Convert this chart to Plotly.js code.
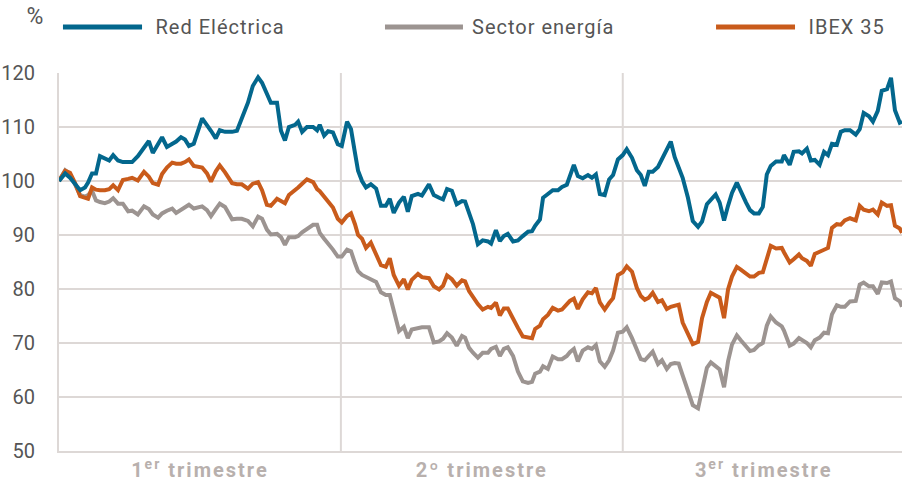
<!DOCTYPE html>
<html>
<head>
<meta charset="utf-8">
<script src="https://cdn.plot.ly/plotly-3.0.1.min.js"></script>
<style>
  html, body { margin: 0; padding: 0; background: #ffffff; }
  #chart { width: 902px; height: 481px; }
  #chart .xtick text { letter-spacing: 2px; }
  #chart .annotation-text { letter-spacing: 1px; }
</style>
</head>
<body>
<div id="chart"></div>
<script>
// Trading-day index from the start of the period (each quarter ≈ 64 sessions)
const days = [
  0,1.4,2.5,3.6,4.8,5.9,6.6,7.5,8.4,9.3,
  10.4,11.4,12.3,13.4,14.5,15.7,16.6,17.9,19.3,20.4,
  21.3,22.5,23.4,24.5,25.7,26.6,27.7,28.6,29.5,30.6,
  32.5,33.6,34.5,35.6,36.5,37.7,39.3,40.4,41.5,42.9,
  44.0,45.2,46.1,47.2,48.1,49.5,50.4,51.3,52.2,53.6,
  54.3,55.2,56.3,57.7,58.6,59.2,60.2,61.1,62.2,63.3,
  64.2,65.4,66.3,67.2,67.9,68.8,69.7,70.8,72.0,73.1,
  74.2,75.1,76.0,77.2,78.3,79.2,80.1,81.5,82.4,84.0,
  85.1,86.3,87.2,88.1,89.2,90.3,91.5,92.2,93.1,94.0,
  95.1,96.2,97.4,98.1,99.2,100.1,101.0,101.9,103.1,104.2,
  105.3,106.5,107.4,108.1,109.2,109.9,111.0,112.1,113.3,114.2,
  115.3,116.0,116.9,117.8,118.9,120.1,121.0,121.9,122.8,123.9,
  124.9,125.8,126.9,128.0,128.9,130.1,131.2,132.1,133.0,133.9,
  134.8,136.0,136.9,138.0,138.9,139.8,140.7,141.6,142.8,143.9,
  145.1,146.0,147.1,148.0,149.1,150.0,151.0,151.9,152.8,153.9,
  154.8,156.0,156.9,157.8,158.9,159.8,160.7,161.6,162.8,164.1,
  164.6,165.9,166.8,168.0,168.7,169.8,170.7,171.6,172.7,173.7,
  174.6,175.5,176.6,177.5,178.4,179.6,180.9,181.8,182.7,183.9,
  184.8,185.9,186.8,188.0,188.9,189.8,190.9,191.4
];

const redElectrica = [
  100,101.4,100.6,99.4,98.3,98.8,99.7,101.4,101.4,104.6,
  104.2,103.8,104.8,103.8,103.5,103.4,103.5,104.6,106.2,107.4,
  105.2,106.7,108.1,106.3,106.9,107.3,108.1,107.7,106.5,106.9,
  111.6,110.4,109.3,107.9,109.4,109.1,109.1,109.3,111.7,114.5,
  117.6,119.2,118.2,116.3,114.5,114.5,109.3,107.5,110.0,110.4,
  111.0,109.1,110.0,110.0,109.4,110.4,108.4,109.2,109.0,106.8,
  106.5,111.0,109.6,105.2,101.9,100.0,98.8,99.4,98.6,95.4,
  95.4,96.7,94.1,96.0,97.1,94.3,97.2,97.6,97.3,99.4,
  97.4,96.9,96.6,98.5,98.2,95.7,96.3,96.2,93.8,92.0,
  88.3,89.0,88.8,88.4,90.9,88.9,89.8,90.2,88.8,89.0,
  89.8,90.6,90.7,91.7,92.9,96.9,97.6,98.3,98.3,98.9,
  99.3,101.1,103.0,100.9,100.5,101.1,100.6,101.2,97.6,97.4,
  100.3,101.1,104.0,104.8,105.9,104.3,102.0,101.1,99.1,101.7,
  101.7,102.6,104.0,105.9,107.3,104.4,102.5,100.6,96.9,92.6,
  91.5,92.5,95.7,96.6,97.5,96.0,92.7,95.4,97.8,99.7,
  98.0,96.0,94.6,94.0,94.0,95.2,101.2,102.8,103.6,103.6,
  104.8,103.0,105.4,105.5,105.1,106.0,103.8,103.9,103.0,105.4,
  104.8,106.9,106.7,109.1,109.4,109.4,108.6,109.6,112.6,112.0,
  111.0,113.0,116.7,117.0,119.1,113.1,110.8,111.0
];

const sectorEnergia = [
  100,102.0,101.3,99.4,97.4,97.1,97.4,98.2,96.4,96.1,
  95.9,96.2,96.8,95.8,95.8,94.4,94.5,93.8,95.3,94.8,
  93.8,93.2,94.0,94.5,94.9,94.1,94.6,95.1,95.6,94.9,
  95.3,94.6,93.5,94.8,95.8,95.2,92.9,93.0,93.0,92.6,
  91.6,93.4,93.0,91.0,90.1,90.2,89.6,88.2,89.6,89.6,
  89.8,90.5,91.2,91.9,91.9,90.4,89.3,88.5,87.3,86.0,
  86.0,87.3,87.0,84.8,83.3,82.6,82.2,81.8,81.3,79.4,
  78.9,78.9,76.0,72.2,73.0,70.9,72.5,72.8,72.9,72.9,
  70.1,70.3,70.8,71.8,71.0,69.5,71.3,71.0,69.1,68.2,
  67.3,68.2,68.2,68.9,69.3,67.6,68.9,69.2,67.6,64.7,
  62.9,62.6,62.8,64.3,64.7,65.7,65.2,67.5,67.0,67.0,
  67.6,68.3,68.9,66.6,68.6,69.2,68.9,69.6,66.6,65.6,
  66.8,68.6,71.9,72.1,72.9,70.9,68.7,67.0,66.8,67.5,
  68.4,66.1,66.8,65.2,66.1,66.3,66.2,64.0,60.9,58.5,
  57.9,61.7,65.4,66.4,65.6,65.1,61.8,66.6,69.7,71.4,
  70.5,69.3,68.5,68.7,69.6,70.0,73.2,74.9,73.8,73.1,
  72.3,69.5,69.9,70.9,70.6,70.0,69.2,70.5,71.0,71.9,
  71.8,75.3,77.0,76.7,76.7,77.7,77.8,80.8,81.2,80.5,
  80.5,79.1,81.2,81.1,81.4,78.3,77.7,76.7
];

const ibex35 = [
  100,101.9,101.5,99.7,97.2,96.8,96.7,98.8,98.4,98.3,
  98.3,98.5,99.2,98.3,100.2,100.4,100.6,100.1,101.7,100.8,
  99.6,99.3,101.3,102.5,103.4,103.2,103.2,103.5,104.0,102.8,
  102.5,101.4,99.9,101.8,102.9,101.6,99.6,99.4,99.4,98.6,
  99.5,99.8,98.3,95.6,95.4,96.7,96.4,95.9,97.4,98.2,
  98.8,99.5,100.3,99.8,98.5,98.1,97.1,96.4,95.1,93.0,
  92.3,93.5,94.0,92.0,90.0,89.3,87.6,88.6,86.6,84.4,
  84.1,85.7,82.6,80.6,81.8,79.9,81.7,82.8,82.2,82.0,
  80.5,79.9,80.6,82.5,81.8,80.6,81.6,81.4,79.6,78.5,
  77.2,76.2,76.7,76.5,77.5,75.1,76.4,76.4,74.7,72.8,
  71.2,71.0,70.9,72.6,73.2,74.4,75.2,76.5,76.0,76.2,
  77.3,77.8,78.2,76.3,78.1,79.4,79.2,80.2,77.5,76.2,
  77.4,78.3,82.6,83.1,84.2,83.2,80.2,78.7,78.0,78.4,
  79.3,77.6,77.9,76.3,76.7,76.9,77.1,73.8,71.8,69.8,
  70.2,74.6,77.6,79.3,78.8,78.4,74.6,79.9,82.3,84.1,
  83.6,82.8,82.3,82.3,83.0,83.1,85.8,88.0,87.5,87.6,
  86.8,84.9,85.5,86.4,85.7,85.2,84.3,86.5,86.9,87.2,
  87.6,91.3,92.0,91.9,92.7,93.1,92.7,95.4,94.7,94.4,
  94.7,93.8,96.0,95.4,95.5,91.7,91.2,90.4
];

const seriesNames = ["Red Eléctrica", "Sector energía", "IBEX 35"];
const seriesColors = ["#03678d", "#9c9491", "#c95b1b"];

const quarterBounds = [64, 128];
const quarterLabelPos = [32, 96, 160];
const quarterLabels = ["1<sup>er</sup> trimestre", "2º trimestre", "3<sup>er</sup> trimestre"];
const yTicks = [50, 60, 70, 80, 90, 100, 110, 120];
const xEnd = 191.4;

const gridColor = "#ddd8d6";
const seriesValues = [redElectrica, sectorEnergia, ibex35];
// draw order: gray, orange, blue on top
const drawOrder = [1, 2, 0];

const traces = drawOrder.map(i => ({
  type: "scatter",
  mode: "lines",
  x: days,
  y: seriesValues[i],
  name: seriesNames[i],
  line: { color: seriesColors[i], width: 4 },
  hoverinfo: "skip",
  showlegend: false
}));

// custom legend (line swatch + label) laid out above the plot
const legendSlots = [
  { x0: 0.0047, x1: 0.0985, tx: 0.1198 },
  { x0: 0.3867, x1: 0.4792, tx: 0.4958 },
  { x0: 0.7794, x1: 0.8731, tx: 0.8909 }
];
const legendY = 1.1217;

const shapes = quarterBounds.map(q => ({
  type: "line", xref: "x", yref: "paper",
  x0: q, x1: q, y0: 0, y1: 1,
  line: { color: gridColor, width: 2 }, layer: "below"
}));
legendSlots.forEach((s, i) => shapes.push({
  type: "line", xref: "paper", yref: "paper",
  x0: s.x0, x1: s.x1, y0: legendY, y1: legendY,
  line: { color: seriesColors[i], width: 5 }
}));

const annotations = legendSlots.map((s, i) => ({
  xref: "paper", yref: "paper", x: s.tx, y: legendY,
  xanchor: "left", yanchor: "middle", showarrow: false,
  text: seriesNames[i],
  font: { family: "Roboto, sans-serif", size: 20, color: "#555555" }
}));
annotations.push({
  xref: "paper", yref: "paper", x: -0.0273, y: 1.15,
  xanchor: "center", yanchor: "middle", showarrow: false,
  text: "%",
  font: { family: "Roboto, sans-serif", size: 23, color: "#555555" }
});

const layout = {
  width: 902, height: 481,
  margin: { l: 59, r: 0, t: 73, b: 30, pad: 0 },
  paper_bgcolor: "#ffffff", plot_bgcolor: "#ffffff",
  font: { family: "Roboto, sans-serif", color: "#555555" },
  showlegend: false,
  xaxis: {
    range: [0, xEnd],
    tickmode: "array", tickvals: quarterLabelPos, ticktext: quarterLabels,
    showgrid: false, zeroline: false,
    showline: true, linecolor: gridColor, linewidth: 2,
    ticks: "",
    tickfont: { family: "Roboto, sans-serif", size: 20, color: "#b8b0ad", weight: "bold" },
    fixedrange: true
  },
  yaxis: {
    range: [50, 120],
    tickmode: "array", tickvals: yTicks,
    showgrid: true, gridcolor: gridColor, gridwidth: 2,
    zeroline: false,
    showline: true, linecolor: gridColor, linewidth: 2,
    ticks: "", ticklabelstandoff: 18,
    tickfont: { family: "Roboto, sans-serif", size: 20, color: "#555555" },
    fixedrange: true
  },
  shapes: shapes,
  annotations: annotations
};

Plotly.newPlot("chart", traces, layout, { staticPlot: true, displayModeBar: false });
</script>
</body>
</html>
